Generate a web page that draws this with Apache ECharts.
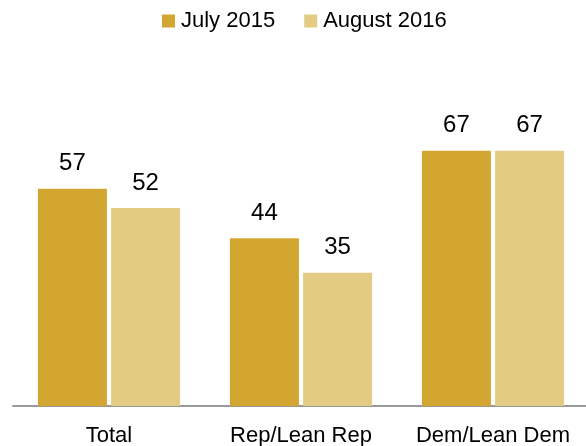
<!DOCTYPE html>
<html>
<head>
<meta charset="utf-8">
<script src="https://cdn.jsdelivr.net/npm/echarts@6/dist/echarts.min.js"></script>
<style>
html,body{margin:0;padding:0;background:#fff;}
#chart{width:586px;height:446px;}
</style>
</head>
<body>
<div id="chart"></div>
<script>
var categories = ['Total', 'Rep/Lean Rep', 'Dem/Lean Dem'];
var seriesNames = ['July 2015', 'August 2016'];
var july2015 = [57, 44, 67];
var august2016 = [52, 35, 67];

var FONT = 'Liberation Sans, Arial, sans-serif';
var chart = echarts.init(document.getElementById('chart'));
chart.setOption({
  animation: false,
  backgroundColor: '#ffffff',
  legend: {
    left: 162,
    top: 10,
    padding: 0,
    icon: 'rect',
    itemWidth: 13,
    itemHeight: 13,
    itemGap: 29,
    textStyle: { fontFamily: FONT, fontSize: 22, color: '#000', padding: [0, 0, 0, 1] },
    data: seriesNames
  },
  grid: { left: 13, right: -3, top: 25, bottom: 40, containLabel: false, outerBoundsMode: 'none' },
  xAxis: {
    type: 'category',
    data: categories,
    axisLine: { show: true, lineStyle: { color: '#999999', width: 2 } },
    axisTick: { show: false },
    axisLabel: { interval: 0, hideOverlap: false, margin: 19, fontFamily: FONT, fontSize: 22, color: '#000' }
  },
  yAxis: {
    type: 'value',
    min: 0,
    max: 100,
    show: false,
    splitLine: { show: false }
  },
  series: [
    {
      name: seriesNames[0],
      type: 'bar',
      data: july2015,
      barWidth: 69,
      barGap: '6%',
      itemStyle: { color: '#D2A631' },
      label: { show: true, position: 'top', distance: 13, fontFamily: FONT, fontSize: 24, color: '#000' }
    },
    {
      name: seriesNames[1],
      type: 'bar',
      data: august2016,
      barWidth: 69,
      barGap: '6%',
      itemStyle: { color: '#E3CB84' },
      label: { show: true, position: 'top', distance: 13, fontFamily: FONT, fontSize: 24, color: '#000' }
    }
  ]
});
</script>
</body>
</html>
